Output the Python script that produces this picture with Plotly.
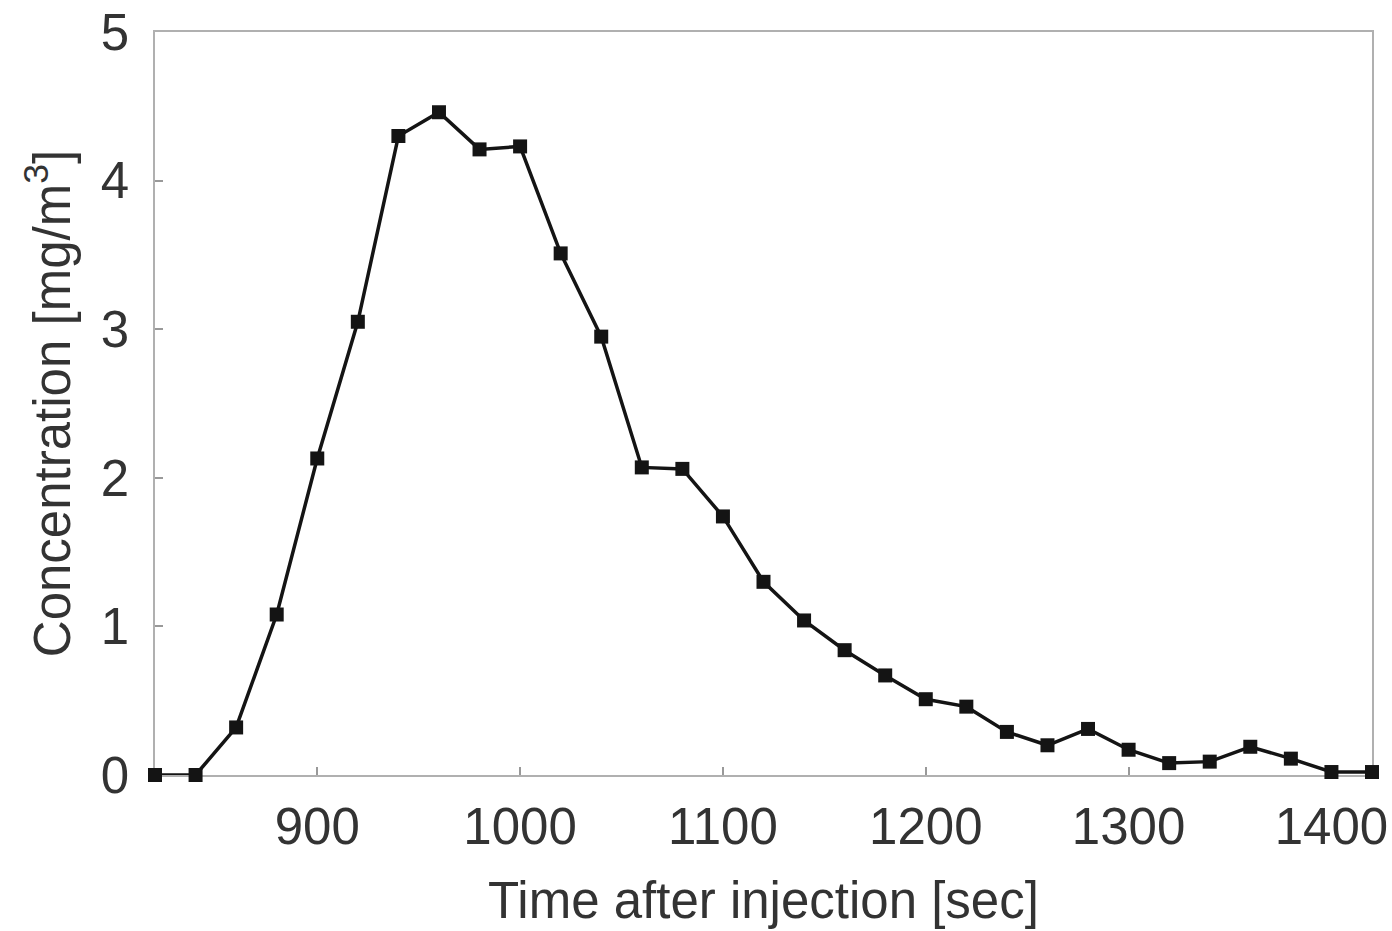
import plotly.graph_objects as go

time_sec = [820, 840, 860, 880, 900, 920, 940, 960, 980, 1000, 1020, 1040, 1060, 1080,
            1100, 1120, 1140, 1160, 1180, 1200, 1220, 1240, 1260, 1280, 1300, 1320,
            1340, 1360, 1380, 1400, 1420]
concentration = [0.0, 0.0, 0.32, 1.08, 2.13, 3.05, 4.30, 4.46, 4.21, 4.23, 3.51, 2.95,
                 2.07, 2.06, 1.74, 1.30, 1.04, 0.84, 0.67, 0.51, 0.46, 0.29, 0.20, 0.31,
                 0.17, 0.08, 0.09, 0.19, 0.11, 0.02, 0.02]
x_ticks = [900, 1000, 1100, 1200, 1300, 1400]
y_ticks = [0, 1, 2, 3, 4, 5]

font_color = "#333333"
fs = 51

fig = go.Figure()
fig.add_trace(go.Scatter(
    x=time_sec, y=concentration, mode="lines+markers",
    line=dict(color="#141414", width=3.5),
    marker=dict(symbol="square", size=14, color="#141414"),
    cliponaxis=False, showlegend=False,
))

fig.update_layout(
    width=1392, height=931,
    paper_bgcolor="white", plot_bgcolor="white",
    margin=dict(l=155, r=20, t=32, b=156, autoexpand=False),
    font=dict(family="Liberation Sans, Arial, sans-serif", color=font_color, size=fs),
)
fig.update_xaxes(
    range=[820, 1420], tickvals=x_ticks, ticks="inside", ticklen=8, tickwidth=1.5,
    tickcolor="#999999", showline=True, linecolor="#b0b0b0", linewidth=1.5, mirror=True,
    showgrid=False, zeroline=False, tickfont=dict(size=fs, color=font_color),
    ticklabelstandoff=6, automargin=False, layer="below traces",
    title=dict(text="Time after injection [sec]", font=dict(size=fs, color=font_color), standoff=28),
)
fig.update_yaxes(
    range=[0, 5], tickvals=y_ticks, ticks="inside", ticklen=8, tickwidth=1.5,
    tickcolor="#999999", showline=True, linecolor="#b0b0b0", linewidth=1.5, mirror=True,
    showgrid=False, zeroline=False, tickfont=dict(size=fs, color=font_color),
    ticklabelstandoff=14, automargin=False, layer="below traces",
    title=dict(text="Concentration [mg/m<sup>3</sup>]", font=dict(size=fs, color=font_color), standoff=14),
)

fig.write_html("out.html", config={"displayModeBar": False},
               post_script="document.body.style.margin='0px'; document.body.style.overflow='hidden';")
